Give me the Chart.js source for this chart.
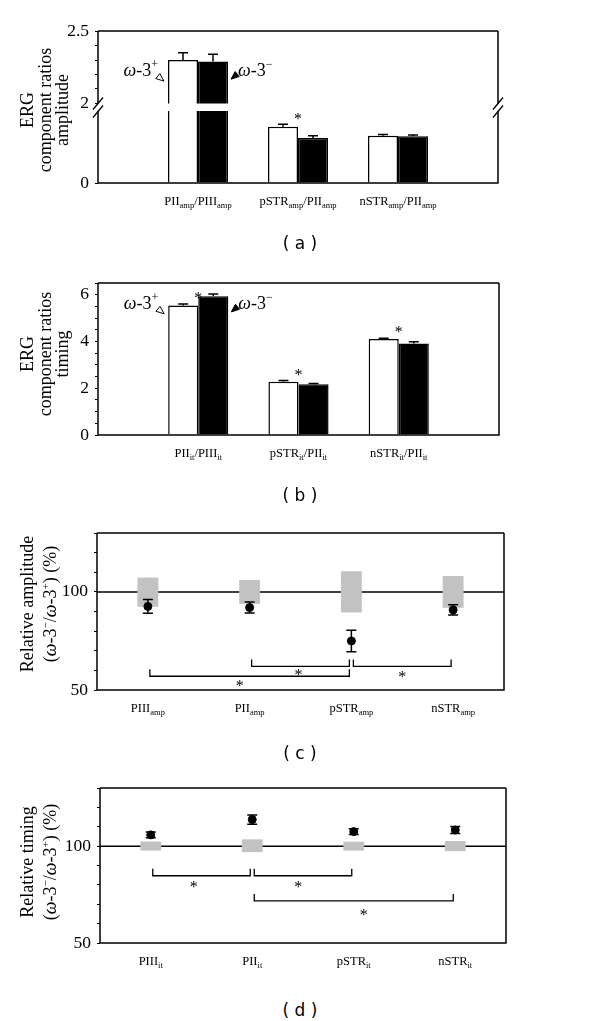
<!DOCTYPE html>
<html>
<head>
<meta charset="utf-8">
<title>ERG component ratios</title>
<script src="https://cdn.jsdelivr.net/npm/chart.js@4.4.1/dist/chart.umd.min.js"></script>
<style>
  body { margin: 0; background: #fff; }
  #page { position: relative; width: 600px; height: 1021px; overflow: hidden; font-family: 'Liberation Serif', serif; color: #000; }
  #page canvas { position: absolute; left: 0; }
  .yt { position: absolute; width: 220px; text-align: center; font-size: 18px; line-height: 17.5px; white-space: nowrap;
        transform: translate(-50%, -50%) rotate(-90deg); }
  .yt.two { line-height: 23px; }
  .yt sup { font-size: 11px; line-height: 0; }
  .pl { position: absolute; left: 0; width: 600px; text-align: center; font: 17px/20px 'DejaVu Sans', sans-serif; }
</style>
</head>
<body>
<div id="page">
  <canvas id="chartAUp" width="600" height="120" style="top:0px"></canvas>
  <canvas id="chartALow" width="600" height="140" style="top:80px"></canvas>
  <canvas id="chartB" width="600" height="220" style="top:260px"></canvas>
  <canvas id="chartC" width="600" height="220" style="top:510px"></canvas>
  <canvas id="chartD" width="600" height="220" style="top:765px"></canvas>

  <div class="yt" style="left:45px;top:110px">ERG<br>component ratios<br>amplitude</div>
  <div class="yt" style="left:45px;top:354px">ERG<br>component ratios<br>timing</div>
  <div class="yt two" style="left:39px;top:604px">Relative amplitude<br>(<i>ω</i>-3<sup>−</sup>/<i>ω</i>-3<sup>+</sup>) (%)</div>
  <div class="yt two" style="left:39px;top:862px">Relative timing<br>(<i>ω</i>-3<sup>−</sup>/<i>ω</i>-3<sup>+</sup>) (%)</div>

  <div class="pl" style="top:233px">( a )</div>
  <div class="pl" style="top:485px">( b )</div>
  <div class="pl" style="top:743px">( c )</div>
  <div class="pl" style="top:1000px">( d )</div>
</div>

<script>
// tick labels: [main text, subscript] runs
const ratioAmpLabels = [
  [['PII', 'amp'], ['/PIII', 'amp']],
  [['pSTR', 'amp'], ['/PII', 'amp']],
  [['nSTR', 'amp'], ['/PII', 'amp']]
];
const ratioItLabels = [
  [['PII', 'it'], ['/PIII', 'it']],
  [['pSTR', 'it'], ['/PII', 'it']],
  [['nSTR', 'it'], ['/PII', 'it']]
];
const compAmpLabels = [[['PIII', 'amp']], [['PII', 'amp']], [['pSTR', 'amp']], [['nSTR', 'amp']]];
const compItLabels = [[['PIII', 'it']], [['PII', 'it']], [['pSTR', 'it']], [['nSTR', 'it']]];

// (a) amplitude ratios  (omega-3 plus = white, minus = black)
const ampPlus = [2.30, 1.56, 1.31];
const ampPlusSem = [0.05, 0.07, 0.04];
const ampMinus = [2.29, 1.25, 1.30];
const ampMinusSem = [0.05, 0.06, 0.03];
const ampSig = [false, true, false];

// (b) timing ratios
const itPlus = [5.54, 2.28, 4.11];
const itPlusSem = [0.06, 0.05, 0.03];
const itMinus = [5.93, 2.17, 3.91];
const itMinusSem = [0.10, 0.03, 0.08];
const itSig = [true, true, true];

// (c) relative amplitude (%), grey band = omega-3 plus spread
const relAmp = [92.6, 92.0, 75.0, 90.8];
const relAmpSem = [3.5, 2.8, 5.5, 2.6];
const ampBandLow = [92.4, 93.9, 89.5, 91.9];
const ampBandHigh = [107.3, 106.1, 110.5, 108.1];
// [from, to, bracket y, star y, star position along bracket]
const ampBrackets = [[0, 2, 57, 53, 0.45], [1, 2, 62, 58.7, 0.48], [2, 3, 62, 58, 0.5]];

// (d) relative timing (%)
const relIt = [105.8, 113.7, 107.5, 108.3];
const relItSem = [1.5, 2.4, 1.5, 1.8];
const itBandLow = [97.7, 96.9, 97.7, 97.4];
const itBandHigh = [102.4, 103.5, 102.3, 102.6];
const itBrackets = [[0, 1, 84.7, 80, 0.42], [1, 2, 84.7, 80, 0.45], [1, 3, 71.7, 65.5, 0.55]];

const INK = '#000';
const GREY = '#c2c2c2';
const SERIF = "'Liberation Serif', serif";
Chart.defaults.font.family = SERIF;
Chart.defaults.color = INK;

const pad = a => [null, ...a, null];
const joinLabel = parts => parts.map(p => p.join('')).join('');

const frame = sides => ({
  id: 'frame',
  afterDraw(chart) {
    const { ctx, chartArea: a } = chart;
    ctx.save();
    ctx.strokeStyle = INK;
    ctx.lineWidth = 1.5;
    ctx.beginPath();
    if (sides.includes('top')) { ctx.moveTo(a.left, a.top); ctx.lineTo(a.right, a.top); }
    if (sides.includes('right')) { ctx.moveTo(a.right, a.top); ctx.lineTo(a.right, a.bottom); }
    if (sides.includes('bottom')) { ctx.moveTo(a.left - 0.75, a.bottom); ctx.lineTo(a.right + 0.75, a.bottom); }
    if (sides.includes('left')) { ctx.moveTo(a.left, a.top); ctx.lineTo(a.left, a.bottom); }
    ctx.stroke();
    ctx.restore();
  }
});

const subLabels = (labels, first) => ({
  id: 'subLabels',
  afterDraw(chart) {
    const { ctx, chartArea: a, scales: { x } } = chart;
    const big = "12.5px " + SERIF, small = "8.5px " + SERIF;
    ctx.save();
    ctx.fillStyle = INK;
    ctx.textAlign = 'left';
    ctx.textBaseline = 'alphabetic';
    labels.forEach((parts, i) => {
      const runs = parts.flatMap(([m, s]) => [[m, big, 0], [s, small, 3]]);
      const w = runs.reduce((sum, [t, f]) => { ctx.font = f; return sum + ctx.measureText(t).width; }, 0);
      let px = x.getPixelForValue(i + first) - w / 2;
      const base = a.bottom + 22;
      runs.forEach(([t, f, dy]) => {
        ctx.font = f;
        ctx.fillText(t, px, base + dy);
        px += ctx.measureText(t).width;
      });
    });
    ctx.restore();
  }
});

// error caps on bars and significance stars
const barMarks = (sems, sig) => ({
  id: 'barMarks',
  afterDatasetsDraw(chart) {
    const { ctx, chartArea: a, scales: { x, y } } = chart;
    ctx.save();
    ctx.beginPath();
    ctx.rect(a.left, a.top, a.right - a.left, a.bottom - a.top);
    ctx.clip();
    ctx.strokeStyle = INK;
    ctx.fillStyle = INK;
    ctx.lineWidth = 1.5;
    chart.data.datasets.forEach((ds, d) => {
      chart.getDatasetMeta(d).data.forEach((bar, k) => {
        const v = ds.data[k];
        if (v == null) return;
        const top = y.getPixelForValue(v + sems[d][k - 1]);
        ctx.beginPath();
        ctx.moveTo(bar.x, bar.y);
        ctx.lineTo(bar.x, top);
        ctx.moveTo(bar.x - 5, top);
        ctx.lineTo(bar.x + 5, top);
        ctx.stroke();
      });
    });
    ctx.font = "16px " + SERIF;
    ctx.textAlign = 'center';
    ctx.textBaseline = 'middle';
    const white = chart.data.datasets[0].data;
    sig.forEach((s, k) => {
      if (!s) return;
      const cap = y.getPixelForValue(white[k + 1] + sems[0][k]);
      ctx.fillText('*', x.getPixelForValue(k + 1), cap - 5);
    });
    ctx.restore();
  }
});

// the omega-3 +/- tags with small arrow heads
const arrowHead = (ctx, tx, ty, ang, filled) => {
  const L = 8, hw = 3.2;
  const bx = tx - L * Math.cos(ang), by = ty - L * Math.sin(ang);
  const px = -Math.sin(ang) * hw, py = Math.cos(ang) * hw;
  ctx.beginPath();
  ctx.moveTo(tx, ty);
  ctx.lineTo(bx + px, by + py);
  ctx.lineTo(bx - px, by - py);
  ctx.closePath();
  ctx.fillStyle = filled ? INK : '#fff';
  ctx.fill();
  ctx.lineWidth = 1;
  ctx.stroke();
};
const groupTags = tagY => ({
  id: 'groupTags',
  afterDraw(chart) {
    const { ctx, scales: { y } } = chart;
    const white = chart.getDatasetMeta(0).data[1];
    const black = chart.getDatasetMeta(1).data[1];
    const cy = y.getPixelForValue(tagY);
    const runs = sign => [['ω', 'italic 18px ' + SERIF, 0], ['-3', '18px ' + SERIF, 0], [sign, '12px ' + SERIF, -8]];
    const width = rs => rs.reduce((s, [t, f]) => { ctx.font = f; return s + ctx.measureText(t).width; }, 0);
    const put = (rs, x0) => {
      let px = x0;
      rs.forEach(([t, f, dy]) => { ctx.font = f; ctx.fillText(t, px, cy + 6 + dy); px += ctx.measureText(t).width; });
    };
    ctx.save();
    ctx.fillStyle = INK;
    ctx.strokeStyle = INK;
    ctx.textBaseline = 'alphabetic';
    ctx.textAlign = 'left';
    const plus = runs('+');
    const wLeft = white.x - white.width / 2;
    put(plus, wLeft - 10 - width(plus));
    const minus = runs('−');
    const bRight = black.x + black.width / 2;
    ctx.fillStyle = INK;
    put(minus, bRight + 10);
    arrowHead(ctx, wLeft - 4, cy + 11, Math.PI * 0.22, false);
    arrowHead(ctx, bRight + 3, cy + 9, Math.PI * 0.78, true);
    ctx.restore();
  }
});

const axisBreak = {
  id: 'axisBreak',
  afterDraw(chart) {
    const { ctx, chartArea: a } = chart;
    const mid = a.top - 3.5;
    ctx.save();
    ctx.strokeStyle = INK;
    ctx.lineWidth = 1.3;
    [a.left, a.right].forEach(x => {
      [-4, 4].forEach(dy => {
        ctx.beginPath();
        ctx.moveTo(x - 5, mid + dy + 6);
        ctx.lineTo(x + 5, mid + dy - 6);
        ctx.stroke();
      });
    });
    ctx.restore();
  }
};

const refLine = v => ({
  id: 'refLine',
  beforeDatasetsDraw(chart) {
    const { ctx, chartArea: a, scales: { y } } = chart;
    const py = y.getPixelForValue(v);
    ctx.save();
    ctx.strokeStyle = INK;
    ctx.lineWidth = 1.5;
    ctx.beginPath();
    ctx.moveTo(a.left, py);
    ctx.lineTo(a.right, py);
    ctx.stroke();
    ctx.restore();
  }
});

const pointMarks = (sems, brackets) => ({
  id: 'pointMarks',
  afterDatasetsDraw(chart) {
    const { ctx, scales: { x, y } } = chart;
    const vals = chart.data.datasets[0].data;
    ctx.save();
    ctx.strokeStyle = INK;
    ctx.fillStyle = INK;
    ctx.lineWidth = 1.5;
    chart.getDatasetMeta(0).data.forEach((pt, k) => {
      const hi = y.getPixelForValue(vals[k] + sems[k]);
      const lo = y.getPixelForValue(vals[k] - sems[k]);
      ctx.beginPath();
      ctx.moveTo(pt.x, hi); ctx.lineTo(pt.x, lo);
      ctx.moveTo(pt.x - 5, hi); ctx.lineTo(pt.x + 5, hi);
      ctx.moveTo(pt.x - 5, lo); ctx.lineTo(pt.x + 5, lo);
      ctx.stroke();
    });
    ctx.lineWidth = 1.3;
    ctx.font = "16px " + SERIF;
    ctx.textAlign = 'center';
    ctx.textBaseline = 'middle';
    brackets.forEach(([from, to, lineY, starY, at]) => {
      const x1 = x.getPixelForValue(from) + 2, x2 = x.getPixelForValue(to) - 2;
      const py = y.getPixelForValue(lineY);
      ctx.beginPath();
      ctx.moveTo(x1, py - 7); ctx.lineTo(x1, py); ctx.lineTo(x2, py); ctx.lineTo(x2, py - 7);
      ctx.stroke();
      ctx.fillText('*', x1 + (x2 - x1) * at, y.getPixelForValue(starY) + 3);
    });
    ctx.restore();
  }
});

function yAxis(min, max, step, shown, width, keep) {
  return {
    min, max,
    afterFit: s => { s.width = width; },
    afterBuildTicks: keep ? s => { s.ticks = s.ticks.filter(t => keep.includes(t.value)); } : undefined,
    ticks: {
      stepSize: step, autoSkip: false, padding: 6, color: INK, font: { size: 17.5 },
      callback: v => { const m = shown.find(l => Math.abs(l - v) < 1e-6); return m === undefined ? '' : String(m); }
    },
    grid: { drawOnChartArea: false, tickLength: 3, color: INK, lineWidth: 1 },
    border: { display: false }
  };
}

const baseOptions = (padding, y, xOffset) => ({
  responsive: false, animation: false, events: [],
  layout: { autoPadding: false, padding },
  plugins: { legend: { display: false }, tooltip: { enabled: false } },
  scales: { x: { display: false, offset: xOffset }, y }
});

function ratioChart(id, o) {
  return new Chart(document.getElementById(id), {
    type: 'bar',
    data: {
      labels: ['', ...o.labels.map(joinLabel), ''],
      datasets: [
        { label: 'ω-3+', data: pad(o.plus), backgroundColor: '#fff', borderColor: INK, borderWidth: 1.5, clip: 0,
          categoryPercentage: 0.6, barPercentage: 1 },
        { label: 'ω-3−', data: pad(o.minus), backgroundColor: INK, borderColor: INK, borderWidth: 1.5, clip: 0,
          categoryPercentage: 0.6, barPercentage: 1 }
      ]
    },
    options: baseOptions(o.padding, o.y, false),
    plugins: o.plugins
  });
}

function relChart(id, o) {
  return new Chart(document.getElementById(id), {
    type: 'bar',
    data: {
      labels: o.labels.map(joinLabel),
      datasets: [
        { type: 'line', label: 'ω-3−/ω-3+', data: o.values, showLine: false, pointRadius: 4,
          pointBackgroundColor: INK, pointBorderColor: INK, order: 1 },
        { type: 'bar', label: 'ω-3+ range', data: o.low.map((l, i) => [l, o.high[i]]), backgroundColor: GREY,
          borderWidth: 0, barPercentage: 0.205, categoryPercentage: 1, order: 2 }
      ]
    },
    options: baseOptions(o.padding, o.y, true),
    plugins: [refLine(100), pointMarks(o.sems, o.brackets), subLabels(o.labels, 0), frame(['top', 'right', 'bottom', 'left'])]
  });
}

const ampSems = [ampPlusSem, ampMinusSem];
ratioChart('chartAUp', {
  labels: ratioAmpLabels, plus: ampPlus, minus: ampMinus,
  padding: { top: 31, right: 102, bottom: 16, left: 0 },
  y: yAxis(2, 2.5, 0.1, [2, 2.5], 98),
  plugins: [barMarks(ampSems, ampSig), groupTags(2.23), frame(['top', 'right', 'left'])]
});
ratioChart('chartALow', {
  labels: ratioAmpLabels, plus: ampPlus, minus: ampMinus,
  padding: { top: 31, right: 102, bottom: 37, left: 0 },
  y: yAxis(0, 2, 2, [0], 98, [0]),
  plugins: [barMarks(ampSems, ampSig), subLabels(ratioAmpLabels, 1), frame(['right', 'bottom', 'left']), axisBreak]
});
ratioChart('chartB', {
  labels: ratioItLabels, plus: itPlus, minus: itMinus,
  padding: { top: 23, right: 101, bottom: 45, left: 0 },
  y: yAxis(0, 6.5, 0.5, [0, 2, 4, 6], 98),
  plugins: [barMarks([itPlusSem, itMinusSem], itSig), groupTags(5.65), subLabels(ratioItLabels, 1),
            frame(['top', 'right', 'bottom', 'left'])]
});
relChart('chartC', {
  labels: compAmpLabels, values: relAmp, sems: relAmpSem, low: ampBandLow, high: ampBandHigh,
  brackets: ampBrackets,
  padding: { top: 23, right: 96, bottom: 40, left: 0 },
  y: yAxis(50, 130, 10, [50, 100], 97)
});
relChart('chartD', {
  labels: compItLabels, values: relIt, sems: relItSem, low: itBandLow, high: itBandHigh,
  brackets: itBrackets,
  padding: { top: 23, right: 94, bottom: 42, left: 0 },
  y: yAxis(50, 130, 10, [50, 100], 100)
});
</script>
</body>
</html>
